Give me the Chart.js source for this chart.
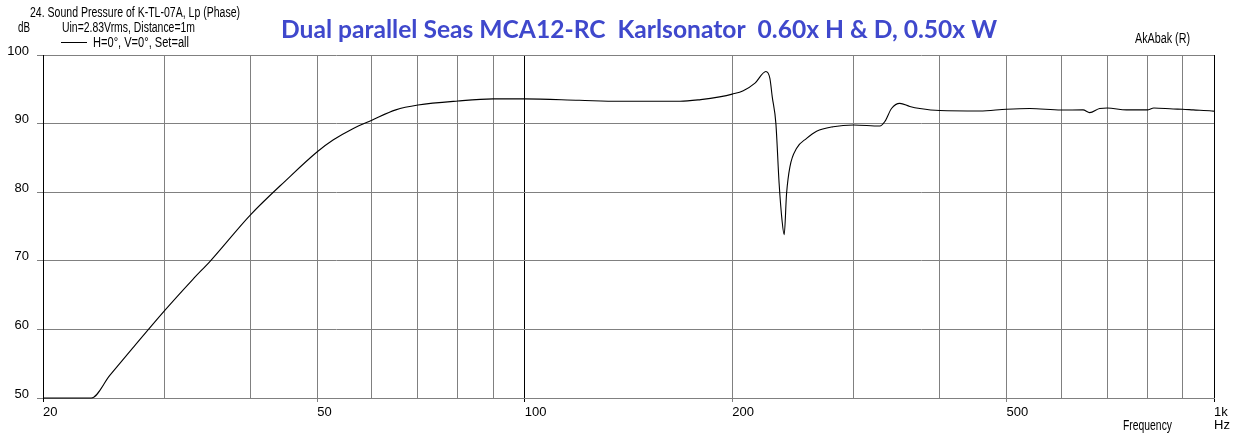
<!DOCTYPE html>
<html>
<head>
<meta charset="utf-8">
<script src="https://cdn.jsdelivr.net/npm/chart.js@4.4.1/dist/chart.umd.min.js"></script>
<style>
  body { margin: 0; background: #fff; }
  #wrap { width: 1256px; height: 440px; position: relative; }
</style>
</head>
<body>
<div id="wrap"><canvas id="splChart"></canvas></div>
<script>
const freqHz = [20, 23.5, 25, 27, 30, 33, 35, 40, 45, 50, 52.7, 56.4, 60, 65, 70, 80, 90, 100, 120, 137, 168, 180, 191.7,
    200, 207.5, 215.8, 223.8, 226.8, 228.6, 231.4, 233.9, 236.2, 237.9, 239.8, 242.5, 248, 256.4, 265.1, 280.2,
    300, 327.5, 333, 340.5, 350.1, 362, 374.3, 400, 457.3, 500, 540.4, 600, 645.6, 660.2, 682.6, 700,
    746.4, 800, 818, 872.4, 900, 932.6, 993, 1000];
const splDb = [50, 50, 53.3, 57.3, 62.7, 67.3, 70.0, 76.7, 81.7, 85.9, 87.6, 89.3, 90.5, 92.0, 92.7, 93.3, 93.6, 93.6, 93.4, 93.25, 93.25, 93.5, 93.9,
    94.3, 94.8, 95.9, 97.6, 96.6, 93.9, 90.0, 81.3, 75.9, 73.8, 79.8, 83.7, 86.4, 87.85, 88.9, 89.55,
    89.8, 89.65, 90.3, 92.2, 92.95, 92.5, 92.2, 91.9, 91.84, 92.1, 92.2, 91.98, 92.0, 91.6, 92.2, 92.27,
    92.0, 92.0, 92.27, 92.13, 92.1, 92.0, 91.84, 91.8];

// axes
const gridFreqs = [20, 30, 40, 50, 60, 70, 80, 90, 100, 200, 300, 400, 500, 600, 700, 800, 900, 1000];
const freqLabels = { 20: '20', 50: '50', 100: '100', 200: '200', 500: '500', 1000: ['1k', 'Hz'] };
const dbTicks = [50, 60, 70, 80, 90, 100];

const GRID = '#808080';
const FONT = '"Liberation Sans", Arial, sans-serif';

// text around the plot (header, legend, captions)
const textPlugin = {
    id: 'captions',
    afterDraw(chart) {
        const c = chart.ctx;
        c.save();
        c.fillStyle = '#000';
        c.textBaseline = 'alphabetic';
        c.font = '14px ' + FONT;
        c.textAlign = 'left';
        c.fillText('24. Sound Pressure of K-TL-07A, Lp (Phase)', 30, 17, 210);
        c.fillText('Uin=2.83Vrms, Distance=1m', 62, 32, 133);
        c.fillText('H=0°, V=0°, Set=all', 93, 47, 96);
        c.fillText('AkAbak (R)', 1135, 43, 55);
        c.fillText('Frequency', 1123, 430, 49);
        c.textAlign = 'right';
        c.fillText('dB', 30, 32, 12);

        // legend line
        c.strokeStyle = '#000';
        c.lineWidth = 1;
        c.beginPath();
        c.moveTo(61, 42.5);
        c.lineTo(87, 42.5);
        c.stroke();

        // blue title
        c.textAlign = 'left';
        c.fillStyle = '#3F48CC';
        c.font = 'bold 25px Lato, "Open Sans", sans-serif';
        c.fillText('Dual parallel Seas MCA12-RC  Karlsonator  0.60x H & D, 0.50x W', 281, 38, 716);
        c.restore();
    }
};

const ctx = document.getElementById('splChart').getContext('2d');
new Chart(ctx, {
    type: 'line',
    data: {
        datasets: [{
            data: freqHz.map((f, i) => ({ x: f, y: splDb[i] })),
            borderColor: '#000',
            borderWidth: 1.1,
            pointRadius: 0,
            cubicInterpolationMode: 'monotone',
            clip: 4
        }]
    },
    options: {
        responsive: true,
        maintainAspectRatio: false,
        animation: false,
        devicePixelRatio: 1,
        layout: { padding: { top: 55, right: 42, left: 0, bottom: 0 } },
        plugins: { legend: { display: false }, tooltip: { enabled: false } },
        scales: {
            x: {
                type: 'logarithmic',
                min: 20,
                max: 1000,
                afterBuildTicks: (s) => { s.ticks = gridFreqs.map(v => ({ value: v })); },
                afterFit: (s) => { s.height = 42; },
                border: { color: GRID },
                grid: {
                    color: (c) => [20, 100, 1000].includes(c.tick && c.tick.value) ? '#000' : GRID,
                    tickColor: (c) => {
                        const v = c.tick && c.tick.value;
                        if (!freqLabels[v]) return 'rgba(0,0,0,0)';
                        return [20, 100, 1000].includes(v) ? '#000' : GRID;
                    },
                    tickLength: 4,
                    lineWidth: 1
                },
                ticks: {
                    autoSkip: false,
                    maxRotation: 0,
                    align: 'start',
                    padding: 4,
                    color: '#000',
                    font: { family: FONT, size: 13, lineHeight: 1.0 },
                    callback: (v) => freqLabels[v] || ''
                }
            },
            y: {
                min: 50,
                max: 100,
                afterBuildTicks: (s) => { s.ticks = dbTicks.map(v => ({ value: v })); },
                afterFit: (s) => { s.width = 43; },
                border: { color: '#000' },
                grid: {
                    color: GRID,
                    tickColor: GRID,
                    tickLength: 6
                },
                ticks: {
                    padding: 8,
                    labelOffset: -4,
                    color: '#000',
                    font: { family: FONT, size: 13 },
                    callback: (v) => String(v)
                }
            }
        }
    },
    plugins: [textPlugin]
});
</script>
</body>
</html>
